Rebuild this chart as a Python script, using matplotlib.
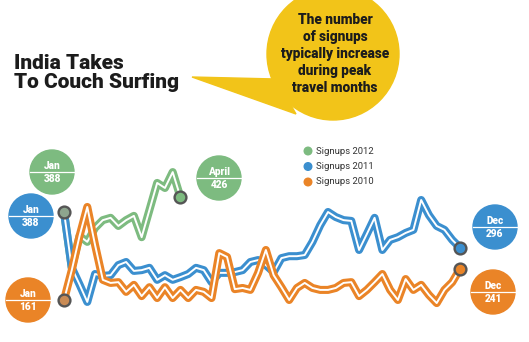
import matplotlib
matplotlib.use("Agg")
import matplotlib.pyplot as plt
import numpy as np
from matplotlib.patches import Circle, Polygon

# ------------------------------------------------------------
# Weekly Couch Surfing signups from India (Jan -> Dec)
# ------------------------------------------------------------
SIGNUPS_2010 = [161, 238, 326, 401, 303, 213, 205, 207, 182, 200, 171, 194, 166,
                194, 166, 187, 166, 187, 182, 166, 282, 272, 189, 192, 187, 231,
                290, 225, 194, 161, 192, 205, 192, 187, 187, 192, 205, 207, 171,
                187, 207, 228, 187, 161, 215, 187, 200, 174, 153, 187, 207, 241]
SIGNUPS_2011 = [388, 244, 201, 156, 228, 223, 225, 251, 259, 236, 238, 244, 213,
                225, 213, 220, 228, 244, 238, 207, 231, 231, 233, 238, 259, 264,
                251, 233, 269, 274, 274, 277, 311, 354, 388, 375, 367, 365, 290,
                331, 373, 290, 316, 323, 334, 342, 419, 380, 352, 342, 316, 296]
# 2012 only runs Jan -> April
SIGNUPS_2012 = [388, 244, 326, 311, 347, 367, 373, 352, 367, 378, 323, 393, 463,
                450, 491, 426]

SERIES = [
    ("Signups 2012", SIGNUPS_2012, "#7dbb80"),
    ("Signups 2011", SIGNUPS_2011, "#3b8fcf"),
    ("Signups 2010", SIGNUPS_2010, "#ea8427"),
]
END_MONTH = {"Signups 2012": "April", "Signups 2011": "Dec", "Signups 2010": "Dec"}

TITLE = "India Takes\nTo Couch Surfing"
CALLOUT = "The number\nof signups\ntypically increase\nduring peak\ntravel months"

W, H = 529, 342
YLIM = (100, 520)
MARKER_EDGE = "#555555"
INK = "#1c1c1c"

plt.rcParams["font.family"] = ["Roboto", "DejaVu Sans"]

fig = plt.figure(figsize=(W / 100, H / 100), dpi=100)

# overlay in pixel units for the title, callout and value bubbles
deco = fig.add_axes([0, 0, 1, 1])
deco.set_xlim(0, W)
deco.set_ylim(H, 0)
deco.axis("off")

# plot area: weeks on x, signups on y (placed so 388 sits at y=212px, 2.58 signups per px)
px_top = 212 - (YLIM[1] - 388) / 2.58
px_bot = 212 + (388 - YLIM[0]) / 2.58
ax = fig.add_axes([64 / W, 1 - px_bot / H, 396 / W, (px_bot - px_top) / H])
ax.set_xlim(0, 51)
ax.set_ylim(*YLIM)
ax.axis("off")

for name, vals, color in SERIES:
    x = np.arange(len(vals))
    ax.plot(x, vals, color=color, lw=5.8, solid_joinstyle="round",
            solid_capstyle="round", clip_on=False, zorder=2)
    ax.plot(x, vals, color="white", lw=1.4, solid_joinstyle="round",
            clip_on=False, zorder=2)

# start / end markers
for name, vals, color in SERIES:
    ax.plot([len(vals) - 1], [vals[-1]], "o", ms=8.5, mfc=color, mec=MARKER_EDGE,
            mew=1.7, clip_on=False, zorder=5)
ax.plot([0], [SIGNUPS_2011[0]], "o", ms=8.5, mfc="#8ea58e", mec=MARKER_EDGE,
        mew=1.7, clip_on=False, zorder=5)
ax.plot([0], [SIGNUPS_2010[0]], "o", ms=8.5, mfc="#c98b55", mec=MARKER_EDGE,
        mew=1.7, clip_on=False, zorder=5)

# value bubbles (centre in px, month, value, colour)
bubbles = [
    ((52, 172), "Jan", SIGNUPS_2012[0], SERIES[0][2]),
    ((31, 216), "Jan", SIGNUPS_2011[0], SERIES[1][2]),
    ((28, 300), "Jan", SIGNUPS_2010[0], SERIES[2][2]),
    ((219, 178), END_MONTH["Signups 2012"], SIGNUPS_2012[-1], SERIES[0][2]),
    ((495, 227), END_MONTH["Signups 2011"], SIGNUPS_2011[-1], SERIES[1][2]),
    ((493, 292), END_MONTH["Signups 2010"], SIGNUPS_2010[-1], SERIES[2][2]),
]
for (cx, cy), month, val, color in bubbles:
    deco.add_patch(Circle((cx, cy), 22, color=color, zorder=3))
    deco.plot([cx - 22, cx + 22], [cy, cy], color="white", lw=0.9, zorder=4)
    deco.text(cx, cy - 6, month, ha="center", va="center", color="white",
              fontsize=7.3, fontweight="black", zorder=4)
    deco.text(cx, cy + 7, str(val), ha="center", va="center", color="white",
              fontsize=7.3, fontweight="black", zorder=4)

# legend as coloured dots
for i, (name, vals, color) in enumerate(SERIES):
    ly = 151 + i * 15.5
    deco.add_patch(Circle((308, ly), 3.8, color=color, zorder=3))
    deco.text(316, ly, name, ha="left", va="center", fontsize=6.8, color="#333333")

# title
deco.text(14, 73, TITLE, ha="left", va="center", fontsize=15, fontweight="black",
          color=INK, linespacing=1.0)

# yellow speech bubble
yellow = "#f2c419"
deco.add_patch(Circle((333, 54), 66, color=yellow, zorder=1))
deco.add_patch(Polygon([(192, 77), (276, 79), (296, 114)], closed=True,
                       color=yellow, zorder=1))
deco.text(335, 54, CALLOUT, ha="center", va="center", fontsize=9.8,
          fontweight="black", color=INK, linespacing=1.27, zorder=2)

fig.savefig("out.png", dpi=100)
